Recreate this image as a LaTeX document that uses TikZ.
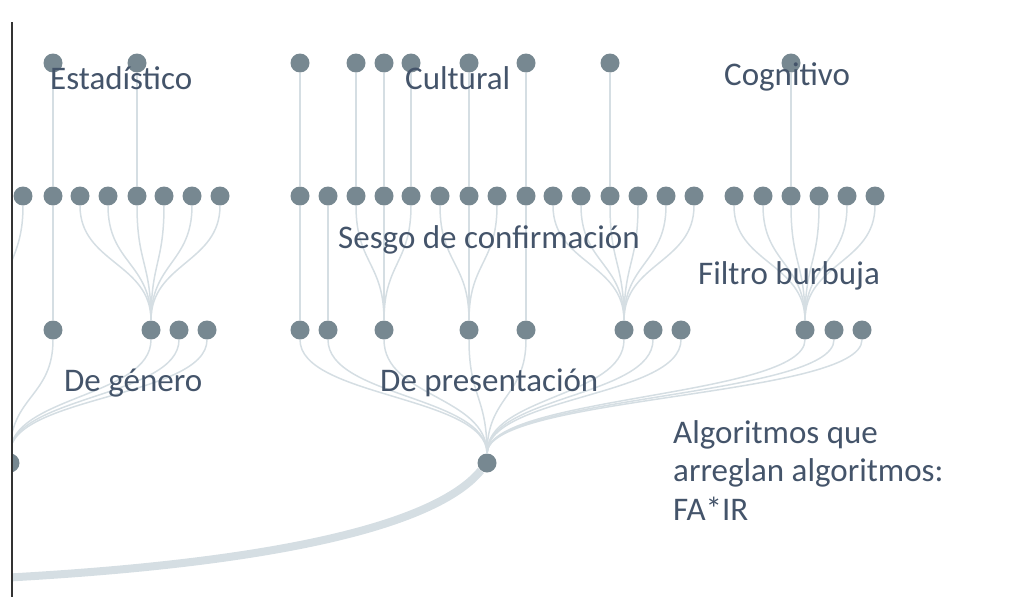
\documentclass[tikz,border=0pt]{standalone}
\usepackage{fontspec}
\setmainfont{Carlito}
\usetikzlibrary{calc,positioning}

\definecolor{nodegrey}{HTML}{778891}
\definecolor{linkgrey}{HTML}{D5DEE3}
\definecolor{labelblue}{HTML}{44546A}
\definecolor{axisgrey}{HTML}{333333}

\begin{document}
\begin{tikzpicture}[x=1pt,y=-1pt,
		dot/.style={circle,fill=nodegrey,minimum size=19pt,inner sep=0pt},
		link/.style={draw=linkgrey,line width=1.5pt,
			to path={.. controls ($(\tikztostart)+(0,67)$) and ($(\tikztotarget)-(0,67)$) .. (\tikztotarget)}},
		trunk/.style={draw=linkgrey,line width=8pt},
		lbl/.style={text=labelblue,font=\fontsize{33}{38.5}\selectfont,inner sep=0pt,anchor=base west,align=left}]
	\useasboundingbox (0,0) rectangle (1024,597);
	\begin{scope}
		\clip (12,0) rectangle (1024,597);
		% top row
		\foreach \x in {53,137,300,356,384,411,469,526,610,791}
			\node[dot] (t\x) at (\x,63) {};
		% second row
		\foreach \x in {23,53,80,108,137,164,192,220,300,328,356,384,411,440,469,497,526,553,581,610,638,666,694,734,763,791,819,847,875}
			\node[dot] (h\x) at (\x,196) {};
		% third row
		\coordinate (m0) at (-2,330);
		\foreach \x in {53,151,179,207,300,328,384,469,526,624,653,681,805,834,862}
			\node[dot] (m\x) at (\x,330) {};
		% fourth row
		\node[dot] (b12) at (10,463) {};
		\node[dot] (b487) at (487,463) {};
		\coordinate (root) at (0,578);

		\path (b487) edge[trunk, to path={.. controls (440,520) and (300,562) .. (\tikztotarget)}] (root);
		\foreach \x in {53,137,300,356,384,411,469,526,610,791}
			\path (t\x) edge[link] (h\x);
		\foreach \x/\p in {23/0,53/53,80/151,108/151,137/151,164/151,192/151,220/151,
				300/300,328/328,356/384,384/384,411/384,440/469,469/469,497/469,526/526,
				553/624,581/624,610/624,638/624,666/624,694/624,
				734/805,763/805,791/805,819/805,847/805,875/805}
			\path (h\x) edge[link] (m\p);
		\foreach \x/\p in {53/12,151/12,179/12,207/12,300/487,328/487,384/487,469/487,526/487,
				624/487,653/487,681/487,805/487,834/487,862/487}
			\path (m\x) edge[link] (b\p);
	\end{scope}
	\draw[axisgrey,line width=2pt] (12,22) -- (12,597);

	\node[lbl] (estad) at (50,89) {Estadístico};
	\node[lbl] (cultu) at (405,89) {Cultural};
	\node[lbl] (cogni) at (724,85) {Cognitivo};
	\node[lbl] (sesgo) at (338,248) {Sesgo de confirmación};
	\node[lbl] (filtro) at (698,284) {Filtro burbuja};
	\node[lbl] (genero) at (64,391) {De género};
	\node[lbl] (presen) at (380,391) {De presentación};
	\node[lbl] (fair) at (673,520) {Algoritmos que\\arreglan algoritmos:\\FA*IR};
\end{tikzpicture}
\end{document}
